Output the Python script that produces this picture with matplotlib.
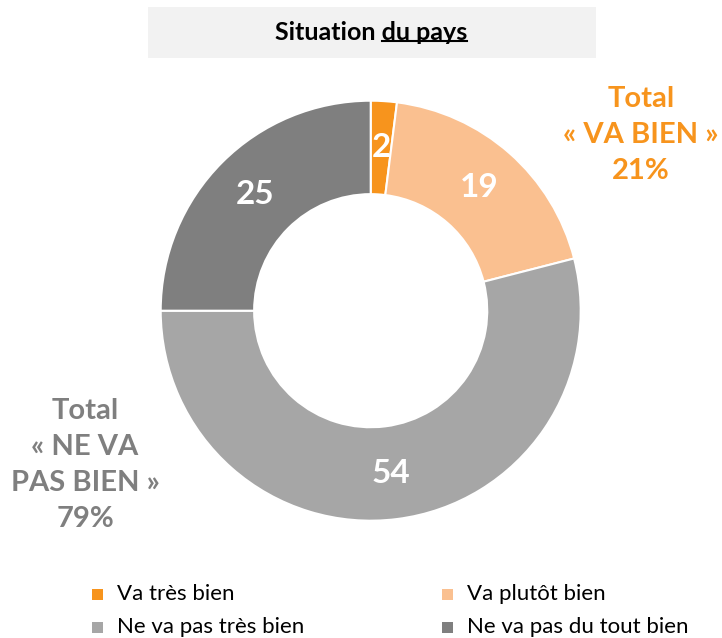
import matplotlib.pyplot as plt
from matplotlib.patches import Rectangle
import numpy as np

plt.rcParams['font.family'] = ['Lato', 'DejaVu Sans']

# donnees
categories = ["Va très bien", "Va plutôt bien", "Ne va pas très bien", "Ne va pas du tout bien"]
valeurs = [2, 19, 54, 25]
couleurs = ["#F7941D", "#FAC090", "#A6A6A6", "#7F7F7F"]
total_bien = 21
total_pas_bien = 79

W, H = 722, 638
fig = plt.figure(figsize=(W / 100, H / 100), dpi=100)

# axe du donut (centre ~ (371, 311) px, rayon ~210 px)
cx, cy, r = 370.7, 310.7, 210
ax = fig.add_axes([(cx - r) / W, (H - cy - r) / H, 2 * r / W, 2 * r / H])
wedges, _ = ax.pie(valeurs, colors=couleurs, startangle=90, counterclock=False,
                   radius=1, wedgeprops=dict(width=0.445, edgecolor="white", linewidth=1.5))
ax.set_xlim(-1, 1)
ax.set_ylim(-1, 1)
ax.set_aspect("equal")
ax.axis("off")

# valeurs dans les segments
for w, v in zip(wedges, valeurs):
    ang = np.deg2rad((w.theta1 + w.theta2) / 2)
    ax.text(0.78 * np.cos(ang), 0.78 * np.sin(ang), str(v), color="white",
            fontsize=24, fontweight="bold", ha="center", va="center")

# titre avec fond gris
fig.patches.append(Rectangle((148 / W, 1 - 58 / H), (596 - 148) / W, 51 / H,
                             transform=fig.transFigure, facecolor="#F2F2F2", edgecolor="none"))
t = fig.text(371 / W, 1 - 33 / H, "Situation du pays", fontsize=18, fontweight="bold",
             ha="center", va="center")
fig.canvas.draw()
ren = fig.canvas.get_renderer()
bb = t.get_window_extent(ren)
tmp = fig.text(0, 0, "du pays", fontsize=18, fontweight="bold")
w2 = tmp.get_window_extent(ren).width
tmp.remove()
y_ul = (bb.y0 + 4) / H
fig.add_artist(plt.Line2D([(bb.x1 - w2) / W, bb.x1 / W], [y_ul, y_ul],
                          transform=fig.transFigure, color="black", linewidth=1.5))

# totaux
fig.text(641 / W, 1 - 135 / H, "Total\n« VA BIEN »\n" + str(total_bien) + "%", color="#F7941D",
         fontsize=21, fontweight="bold", ha="center", va="center", linespacing=1.48)
fig.text(85 / W, 1 - 465 / H, "Total\n« NE VA\nPAS BIEN »\n" + str(total_pas_bien) + "%",
         color="#7F7F7F", fontsize=21, fontweight="bold", ha="center", va="center", linespacing=1.48)

# legende
pos = [(97, 594), (447, 594), (97, 627), (447, 627)]
for (x, y), lab, c in zip(pos, categories, couleurs):
    fig.patches.append(Rectangle(((x - 5.5) / W, 1 - (y + 5.5) / H), 11 / W, 11 / H,
                                 transform=fig.transFigure, facecolor=c, edgecolor="none"))
    fig.text((x + 20) / W, 1 - y / H, lab, fontsize=16, ha="left", va="center")

fig.savefig("out.png", dpi=100)
